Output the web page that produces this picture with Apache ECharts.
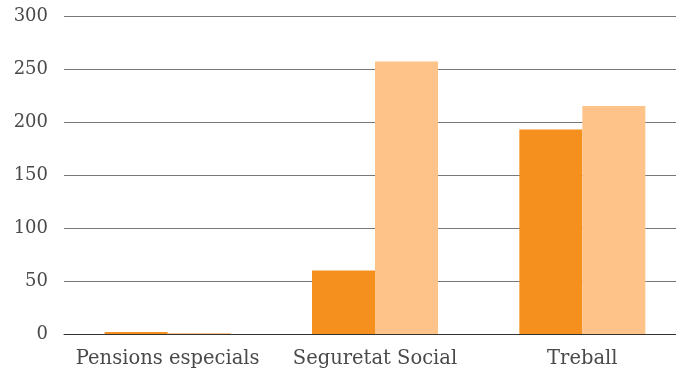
<!DOCTYPE html>
<html><head><meta charset="utf-8">
<script src="https://cdn.jsdelivr.net/npm/echarts@6/dist/echarts.min.js"></script>
<style>html,body{margin:0;padding:0;background:#fff;overflow:hidden}#c{width:686px;height:374px}</style>
</head><body><div id="c"></div>
<script>
const categories = ['Pensions especials', 'Seguretat Social', 'Treball'];
const seriesA = [2, 60, 193];
const seriesB = [1, 257, 215];
const yTicks = {min: 0, max: 300, interval: 50};

const chart = echarts.init(document.getElementById('c'));
const font = 'DejaVu Serif';
chart.setOption({
  animation: false,
  grid: {left: 64, top: 16, right: 0, bottom: 40, containLabel: false},
  xAxis: {
    type: 'category', data: categories,
    axisTick: {show: false},
    axisLine: {lineStyle: {color: '#333', width: 1}},
    axisLabel: {color: '#4a4a4a', fontFamily: font, fontSize: 19.5, margin: 15, interval: 0, hideOverlap: false}
  },
  yAxis: {
    type: 'value', min: yTicks.min, max: yTicks.max, interval: yTicks.interval,
    axisLine: {show: false}, axisTick: {show: false},
    splitLine: {lineStyle: {color: '#777', width: 1}},
    axisLabel: {color: '#4a4a4a', fontFamily: font, fontSize: 18, margin: 16}
  },
  series: [
    {type: 'bar', data: seriesA, barWidth: 63, barGap: '0%', itemStyle: {color: '#F5901E'}},
    {type: 'bar', data: seriesB, barWidth: 63, barGap: '0%', itemStyle: {color: '#FDC389'}}
  ]
});
</script></body></html>
